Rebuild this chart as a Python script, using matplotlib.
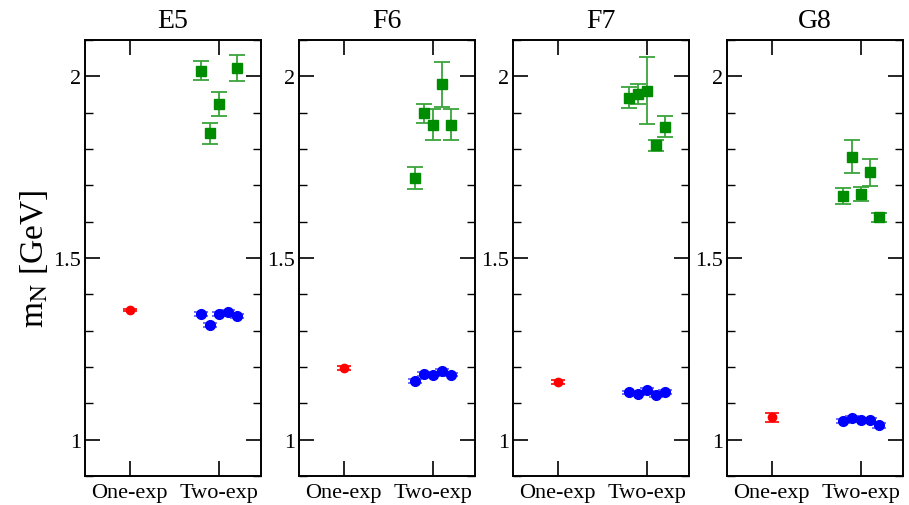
import numpy as np
import matplotlib
matplotlib.use("Agg")
import matplotlib.pyplot as plt

plt.rcParams['font.family'] = 'Liberation Serif'
plt.rcParams['mathtext.fontset'] = 'stix'

ensembles = ['E5', 'F6', 'F7', 'G8']
fit_labels = ['One-exp', 'Two-exp']
two_exp_x = [1.8, 1.9, 2.0, 2.1, 2.2]

# one-exponential fits (red)
one_exp_mass = [1.357, 1.197, 1.158, 1.062]
one_exp_err = [0.004, 0.005, 0.006, 0.012]

# two-exponential fits, ground state (blue)
ground_mass = {
    'E5': [1.346, 1.316, 1.346, 1.352, 1.341],
    'F6': [1.162, 1.180, 1.179, 1.190, 1.179],
    'F7': [1.131, 1.127, 1.137, 1.124, 1.132],
    'G8': [1.052, 1.061, 1.053, 1.055, 1.040],
}
ground_err = {
    'E5': [0.005, 0.006, 0.005, 0.005, 0.005],
    'F6': [0.006, 0.005, 0.005, 0.005, 0.005],
    'F7': [0.004, 0.004, 0.004, 0.006, 0.005],
    'G8': [0.005, 0.005, 0.005, 0.005, 0.007],
}

# two-exponential fits, excited state (green)
excited_mass = {
    'E5': [2.015, 1.843, 1.924, np.nan, 2.023],
    'F6': [1.721, 1.898, 1.867, 1.978, 1.867],
    'F7': [1.941, 1.952, 1.960, 1.810, 1.861],
    'G8': [1.672, 1.779, 1.676, 1.736, 1.612],
}
excited_err = {
    'E5': [0.026, 0.029, 0.033, np.nan, 0.035],
    'F6': [0.030, 0.027, 0.043, 0.062, 0.043],
    'F7': [0.029, 0.027, 0.092, 0.015, 0.029],
    'G8': [0.022, 0.046, 0.020, 0.037, 0.012],
}

fig = plt.figure(figsize=(9.09, 5.06), dpi=100)

left0 = 85 / 909
width = 176 / 909
step = 214 / 909
bottom = 1 - 477 / 506
height = (477 - 41) / 506

for i, ens in enumerate(ensembles):
    ax = fig.add_axes([left0 + i * step, bottom, width, height])

    ax.errorbar([1.0], [one_exp_mass[i]], yerr=[one_exp_err[i]], fmt='o',
                color='red', ms=6, capsize=5, elinewidth=1.2, capthick=1.2)
    ax.errorbar(two_exp_x, ground_mass[ens], yerr=ground_err[ens], fmt='o',
                color='blue', ms=7, capsize=5, elinewidth=1.2, capthick=1.2,
                ecolor='#5555ff')
    ax.errorbar(two_exp_x, excited_mass[ens], yerr=excited_err[ens], fmt='s',
                color='#008c00', ms=6.5, capsize=5.5, elinewidth=1.3,
                capthick=1.3, ecolor='#3aa43a')

    ax.set_xlim(0.5, 2.47)
    ax.set_ylim(0.9, 2.1)
    ax.set_xticks([1, 2])
    ax.set_xticklabels(fit_labels, fontsize=16)
    ax.set_yticks([1.0, 1.5, 2.0])
    ax.set_yticklabels(['1', '1.5', '2'], fontsize=16)
    ax.set_yticks(np.arange(0.9, 2.11, 0.1), minor=True)
    ax.tick_params(axis='both', which='major', direction='in', length=11,
                   width=1.2, top=True, right=True)
    ax.tick_params(axis='y', which='major', pad=3)
    ax.tick_params(axis='x', which='major', pad=5)
    ax.tick_params(axis='y', which='minor', direction='in', length=6,
                   width=1.0, right=True)
    ax.tick_params(axis='x', which='minor', bottom=False, top=False)
    for sp in ax.spines.values():
        sp.set_linewidth(1.4)
    ax.set_title(ens, fontsize=20, pad=9)

    if i == 0:
        ax.set_ylabel(r'm$_\mathrm{N}$ [GeV]', fontsize=24, labelpad=2)

fig.savefig('out.png', dpi=100)
